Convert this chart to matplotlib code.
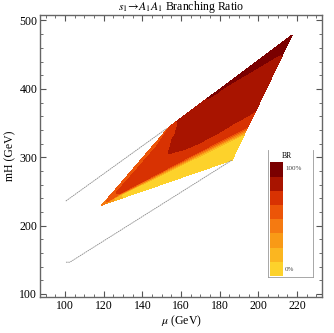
import numpy as np
import matplotlib.pyplot as plt

plt.rcParams['font.family'] = ['Liberation Serif', 'DejaVu Serif']
plt.rcParams['mathtext.fontset'] = 'stix'

# kolory pasm od 0% do 100%
levels = [0, 12.5, 25, 37.5, 50, 62.5, 75, 87.5, 100]
colors = ['#fdd22b', '#fbb620', '#f99a16', '#f57a11', '#ec5508',
          '#d83202', '#a81400', '#7a0000']

# przekroje obszaru: punkt na dolnej krawedzi i na gornej krawedzi (mu, mH)
lo_mu = [119.1, 131.0, 144.0, 156.9, 169.8, 178.1, 186.4, 192.3, 194.4, 196.5, 203.8, 211.2, 217.4]
lo_mh = [230.1, 241.8, 254.4, 267.1, 279.7, 287.8, 295.9, 331.0, 343.2, 355.5, 398.2, 442.1, 478.6]
hi_mu = [119.1, 125.9, 136.2, 146.6, 153.8, 158.5, 169.8, 177.6, 181.5, 186.4, 198.3, 208.6, 217.4]
hi_mh = [230.1, 252.2, 286.2, 320.3, 344.1, 353.9, 378.0, 394.4, 402.6, 413.0, 438.1, 459.9, 478.6]

# polozenie punktow wzdluz przekroju (0 = dol, 1 = gora) i odczytany BR w %
t_sec = [
    [0, 0, 0, 0, 0, 0, 0, 0],
    [0, .36, .52, .60, .68, .76, .85, 1],
    [0, .27, .37, .50, .62, .75, .88, 1],
    [0, .249, .33, .45, .60, .75, .92, 1],
    [0, .255, .333, .47, .62, .80, .95, 1],
    [0, .271, .351, .47, .65, .80, .92, 1],
    [0, .273, .35, .47, .65, .80, .93, 1],
    [0, .023, .124, .304, .50, .75, .97, 1],
    [0, .005, .017, .216, .45, .70, .975, 1],
    [0, .05, .11, .30, .50, .75, .943, 1],
    [0, .20, .40, .55, .70, .78, .81, 1],
    [0, .10, .20, .28, .33, .36, .38, 1],
    [0, 0, 0, 0, 0, 0, 0, 0],
]
br_sec = [
    [45, 45, 45, 45, 45, 45, 45, 45],
    [8, 12.5, 62.5, 63.5, 64, 63.5, 60, 55],
    [5, 12.5, 62.5, 68, 70, 68, 62.5, 57],
    [3, 12.5, 62.5, 70, 73, 71, 62.5, 58],
    [2, 12.5, 62.5, 74, 80, 76, 66, 62],
    [2, 12.5, 62.5, 74.5, 82, 82, 80, 77],
    [2, 12.5, 62.5, 75, 82, 84, 85, 86],
    [11, 12.5, 62.5, 75, 82, 85, 87.5, 89],
    [61, 61.5, 62.5, 75, 82, 85, 87.5, 90],
    [73, 74, 75, 80, 83, 86, 87.5, 90],
    [80, 81, 82, 83, 85, 86.5, 87.5, 95],
    [85, 85.5, 86, 86.5, 87, 87.3, 87.5, 97],
    [98, 98, 98, 98, 98, 98, 98, 98],
]

# linie granic obszaru dozwolonego
upper_mu = [100.4, 152.6]
upper_mh = [235.9, 342.2]
lower_mu = [100.5, 102.5, 186.4]
lower_mh = [146.5, 146.5, 295.9]

t = np.array(t_sec)
X = np.array(lo_mu)[:, None] + t*(np.array(hi_mu) - np.array(lo_mu))[:, None]
Y = np.array(lo_mh)[:, None] + t*(np.array(hi_mh) - np.array(lo_mh))[:, None]
Z = np.array(br_sec)

fig = plt.figure(figsize=(3.34, 3.33), dpi=100)
ax = fig.add_axes([0.1198, 0.1081, 0.8443, 0.8468])
ax.contourf(X, Y, Z, levels=levels, colors=colors)
ax.plot(upper_mu, upper_mh, color='#8c8c8c', lw=0.6, ls=(0, (2, 0.7)))
ax.plot(lower_mu, lower_mh, color='#8c8c8c', lw=0.6, ls=(0, (2, 0.7)))

ax.set_xlim(87.07, 232.9)
ax.set_ylim(95.6, 508)
ax.set_xticks(np.arange(100, 221, 20))
ax.set_xticks(np.arange(90, 231, 5), minor=True)
ax.set_yticks(np.arange(100, 501, 100))
ax.set_yticks(np.arange(100, 501, 20), minor=True)
ax.tick_params(which='both', direction='in', top=True, right=True, color='#555555',
               labelsize=8.5, pad=2)
ax.tick_params(which='major', length=4, width=0.8)
ax.tick_params(which='minor', length=2, width=0.6)
for s in ax.spines.values():
    s.set_color('#666666')
    s.set_linewidth(1.0)

ax.set_title(r'$s_1\!\rightarrow\! A_1 A_1$ Branching Ratio', fontsize=8.5, pad=2)
ax.set_xlabel(r'$\mu$ (GeV)', fontsize=8.5, labelpad=1)
ax.set_ylabel('mH (GeV)', fontsize=8.5, labelpad=2)

# legenda
lg = fig.add_axes([268/334, 1 - 277/333, 45/334, 127/333])
lg.bar(8.5, 12.5, width=13, bottom=levels[:-1], color=colors)
lg.set_xlim(0, 45)
lg.set_ylim(-1, 111)
lg.set_xticks([])
lg.set_yticks([])
lg.spines['top'].set_visible(False)
for s in ['left', 'right', 'bottom']:
    lg.spines[s].set_color('#999999')
    lg.spines[s].set_linewidth(0.6)
lg.text(19, 105.5, 'BR', fontsize=5.5, ha='center', va='center')
lg.text(17, 94.5, '100%', fontsize=5, ha='left', va='center', color='#444444')
lg.text(17, 6, '0%', fontsize=5, ha='left', va='center', color='#444444')

plt.savefig('out.png', dpi=100)
